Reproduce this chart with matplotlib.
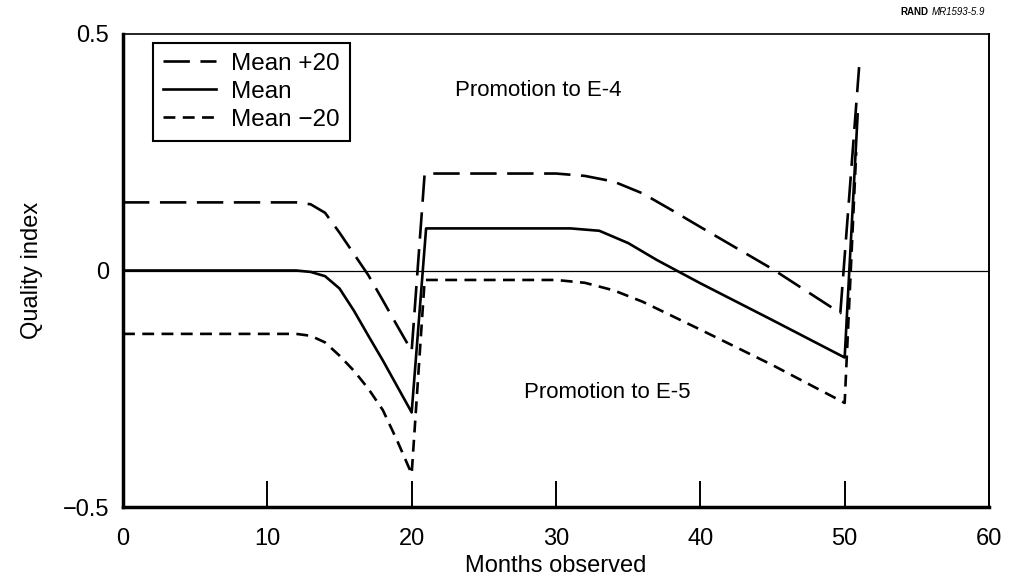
import matplotlib
matplotlib.use("Agg")
import matplotlib.pyplot as plt

plt.rcParams['font.family'] = ['Liberation Sans', 'DejaVu Sans']

# Data (months observed, quality index)
months_plus = [0, 12, 13, 14, 15, 16, 17, 18, 19, 20, 20.9, 30, 32, 34, 36, 38, 40, 45, 49.7, 51.0]
mean_plus   = [0.144, 0.144, 0.140, 0.122, 0.080, 0.035, -0.010, -0.063, -0.117, -0.170,
               0.205, 0.205, 0.200, 0.188, 0.163, 0.128, 0.092, 0.003, -0.090, 0.430]

months_mean = [0, 12, 13, 14, 15, 16, 17, 18, 19, 20, 21.0, 31, 33, 35, 37, 40, 45, 50.0, 50.9]
mean_vals   = [0.0, 0.0, -0.003, -0.012, -0.038, -0.085, -0.138, -0.190, -0.245, -0.300,
               0.089, 0.089, 0.084, 0.058, 0.022, -0.027, -0.105, -0.184, 0.330]

months_minus = [0, 12, 13, 14, 15, 16, 17, 18, 19, 20.0, 20.9, 30, 32, 34, 36, 40, 45, 50.0, 50.8]
mean_minus   = [-0.134, -0.134, -0.138, -0.152, -0.180, -0.212, -0.250, -0.295, -0.360, -0.430,
                -0.020, -0.020, -0.026, -0.042, -0.066, -0.125, -0.200, -0.280, 0.250]

legend_labels = ["Mean +20", "Mean", "Mean \u221220"]
x_ticks = [0, 10, 20, 30, 40, 50, 60]
y_ticks = [-0.5, 0, 0.5]
y_ticklabels = ["\u22120.5", "0", "0.5"]

fig = plt.figure(figsize=(10.11, 5.84), dpi=100)
ax = fig.add_axes([123/1011, 1-507/584, (989-123)/1011, (507-34)/584])

lw = 1.9
ax.plot(months_plus, mean_plus, color='black', lw=lw, dashes=(10, 4), label=legend_labels[0])
ax.plot(months_mean, mean_vals, color='black', lw=lw, label=legend_labels[1])
ax.plot(months_minus, mean_minus, color='black', lw=lw, dashes=(4.5, 2.8), label=legend_labels[2])
ax.axhline(0, color='black', lw=0.9)

ax.set_xlim(0, 60)
ax.set_ylim(-0.5, 0.5)
ax.set_xticks(x_ticks)
ax.set_yticks(y_ticks)
ax.set_yticklabels(y_ticklabels)
ax.tick_params(axis='x', direction='in', length=19, width=1.4, labelsize=17, pad=15)
ax.tick_params(axis='y', length=0, labelsize=17, pad=10)

ax.spines['left'].set_linewidth(2.5)
ax.spines['bottom'].set_linewidth(2.5)
ax.spines['top'].set_linewidth(1.2)
ax.spines['right'].set_linewidth(1.4)

ax.set_xlabel("Months observed", fontsize=17, labelpad=4)
ax.set_ylabel("Quality index", fontsize=17, labelpad=14)

leg = ax.legend(loc='upper left', bbox_to_anchor=(0.0346, 0.981), borderaxespad=0,
                fontsize=17.5, fancybox=False, frameon=True, handlelength=2.2,
                labelspacing=0.25, borderpad=0.4, handletextpad=0.62)
leg.get_frame().set_edgecolor('black')
leg.get_frame().set_linewidth(1.5)
leg.get_frame().set_alpha(1)

ax.text(23.0, 0.38, "Promotion to E-4", fontsize=16, ha='left', va='center')
ax.text(27.8, -0.257, "Promotion to E-5", fontsize=16, ha='left', va='center')

# Source label, top right
t2 = fig.text(985/1011, 1-12/584, "MR1593-5.9", fontsize=7, style='italic', ha='right', va='center')
fig.canvas.draw()
r = fig.canvas.get_renderer()
bb = t2.get_window_extent(renderer=r)
fig.text((bb.x0 - 3)/fig.bbox.width, 1-12/584, "RAND", fontsize=7, weight='bold', ha='right', va='center')

fig.savefig("out.png", dpi=100)
